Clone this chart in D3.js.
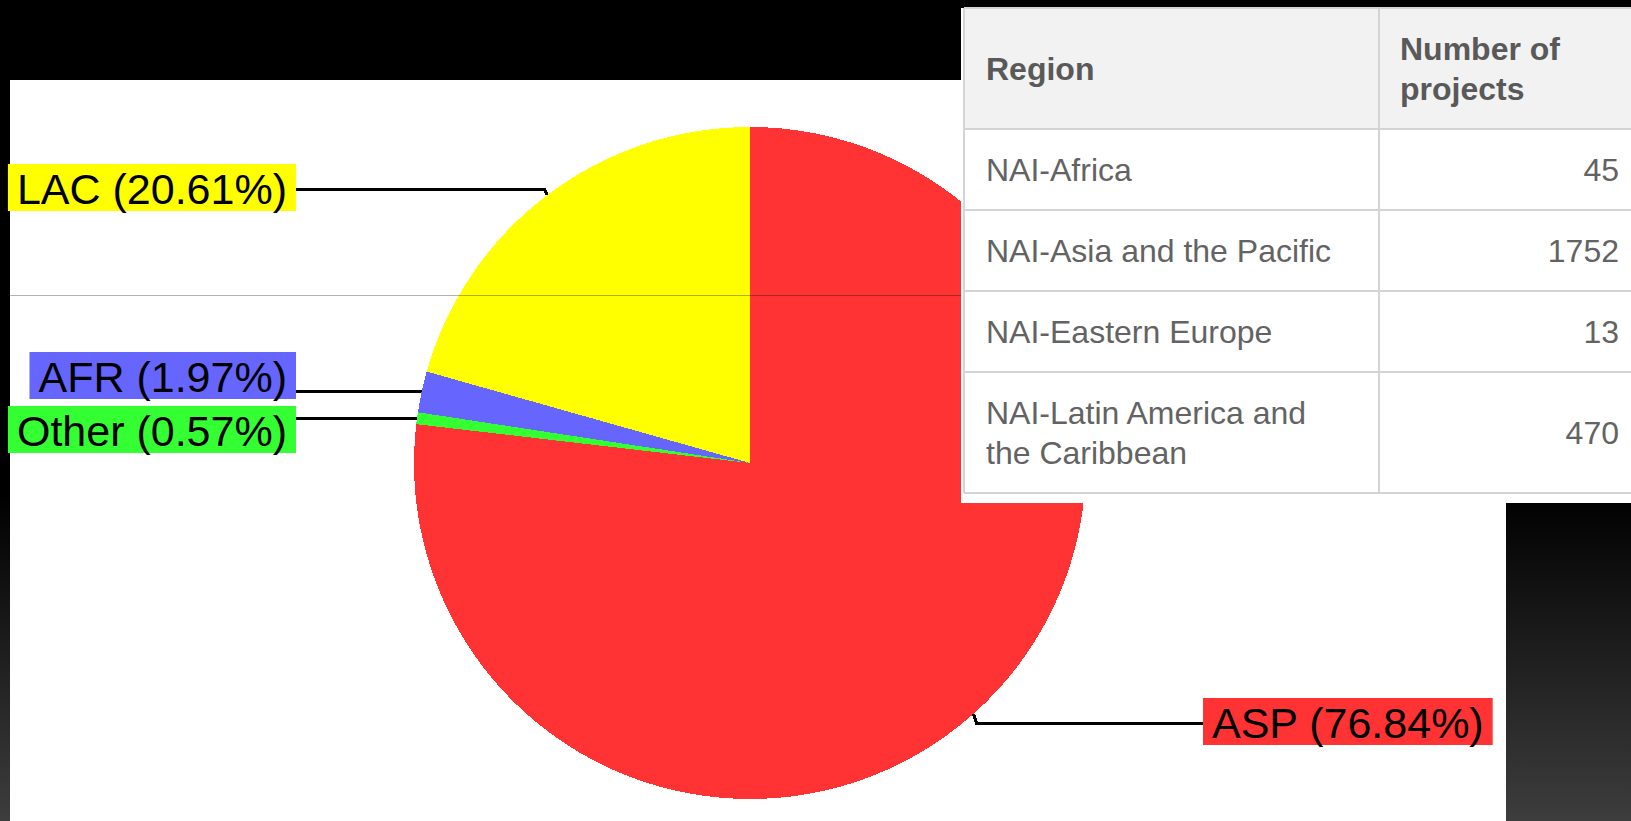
<!DOCTYPE html>
<html>
<head>
<meta charset="utf-8">
<script src="https://cdn.jsdelivr.net/npm/d3@7"></script>
<style>
    body { margin: 0; background: #000; overflow: hidden; }
</style>
</head>
<body>
<svg id="chart"></svg>
<script>
const W = 1631, H = 821;

// table data
const tableHeader = ['Region', 'Number of projects'];
const regions = ['NAI-Africa', 'NAI-Asia and the Pacific', 'NAI-Eastern Europe', 'NAI-Latin America and the Caribbean'];
const projects = [45, 1752, 13, 470];
const codes = ['AFR', 'ASP', 'Other', 'LAC'];

// pie slices, clockwise from 12 o'clock
const pieOrder = ['ASP', 'Other', 'AFR', 'LAC'];
const pieColors = ['#ff3333', '#33ff33', '#6666ff', '#ffff00'];

const svg = d3.select("#chart")
    .attr("width", W)
    .attr("height", H);

// background: black fading to dark grey at the bottom
const grad = svg.append("defs").append("linearGradient")
    .attr("id", "bg")
    .attr("gradientUnits", "userSpaceOnUse")
    .attr("x1", 0).attr("y1", 0).attr("x2", 0).attr("y2", H);
grad.append("stop").attr("offset", 0.6).attr("stop-color", "#000");
grad.append("stop").attr("offset", 1).attr("stop-color", "#3d3d3d");

svg.append("rect").attr("width", W).attr("height", H).attr("fill", "url(#bg)");
svg.append("rect")
    .attr("x", 10).attr("y", 80)
    .attr("width", W - 10).attr("height", H - 80)
    .attr("fill", "#fff");

// ---- pie ----
const cx = 750, cy = 463, r = 336;
const values = pieOrder.map(c => projects[codes.indexOf(c)]);
const total = d3.sum(values);
const color = d3.scaleOrdinal().domain(pieOrder).range(pieColors);

const pie = d3.pie().sort(null).value(d => d.value);
const arcs = pie(pieOrder.map((c, i) => ({ code: c, value: values[i] })));
const arc = d3.arc().innerRadius(0).outerRadius(r);
const edge = d3.arc().innerRadius(r).outerRadius(r);

const g = svg.append("g").attr("transform", `translate(${cx},${cy})`);
g.selectAll("path")
    .data(arcs)
    .join("path")
    .attr("d", arc)
    .attr("fill", d => color(d.data.code))
    .attr("shape-rendering", "crispEdges");

// labels (box top and leader line height)
const labelPos = {
    LAC: { top: 164, line: 189, side: "left" },
    AFR: { top: 352, line: 391, side: "left" },
    Other: { top: 406, line: 418, side: "left" },
    ASP: { top: 698, line: 723, side: "right" }
};
const fmt = d3.format(".2f");
const leftEdge = 296, rightEdge = 1203, pad = 9, boxH = 47;

arcs.forEach(d => {
    const code = d.data.code;
    const p = labelPos[code];
    const [ex, ey] = edge.centroid(d);
    const px = cx + ex, py = cy + ey;

    const lbl = svg.append("g");
    const box = lbl.append("rect").attr("fill", color(code));
    const txt = lbl.append("text")
        .attr("y", p.top + 40)
        .style("font-family", "'Liberation Sans', Arial, sans-serif")
        .style("font-size", "43px")
        .attr("fill", "#000")
        .text(`${code} (${fmt(d.value / total * 100)}%)`);
    const tw = txt.node().getComputedTextLength();
    const bx = p.side === "left" ? leftEdge - tw - 2 * pad : rightEdge;
    box.attr("x", bx).attr("y", p.top).attr("width", tw + 2 * pad).attr("height", boxH);
    txt.attr("x", bx + pad);

    const dir = p.side === "left" ? -1 : 1;
    svg.append("path")
        .attr("d", `M${p.side === "left" ? leftEdge : rightEdge},${p.line}H${px + dir * 3}L${px},${py}`)
        .attr("fill", "none")
        .attr("stroke", "#000")
        .attr("stroke-width", 3)
        .attr("shape-rendering", "crispEdges");
});

// thin grey line across the picture
svg.append("line")
    .attr("x1", 0).attr("x2", 962)
    .attr("y1", 295.5).attr("y2", 295.5)
    .attr("stroke", "#000")
    .attr("stroke-opacity", 0.3);

// dark corner bottom right
svg.append("rect")
    .attr("x", 1506).attr("y", 503)
    .attr("width", W - 1506).attr("height", H - 503)
    .attr("fill", "url(#bg)");

// ---- table ----
const tx = 964, colX = 1379, tRight = 1660, tTop = 8;
const lineH = 40;
svg.append("rect")
    .attr("x", 961).attr("y", tTop)
    .attr("width", W - 961).attr("height", 503 - tTop)
    .attr("fill", "#fff");

const tbl = svg.append("g")
    .style("font-family", "'Liberation Sans', Arial, sans-serif")
    .style("font-size", "32px");

function wrap(str, maxW, bold) {
    const t = tbl.append("text").style("font-weight", bold ? "bold" : "normal");
    const words = str.split(" ");
    const lines = [];
    let cur = [];
    words.forEach(w => {
        cur.push(w);
        t.text(cur.join(" "));
        if (t.node().getComputedTextLength() > maxW && cur.length > 1) {
            cur.pop();
            lines.push(cur.join(" "));
            cur = [w];
        }
    });
    lines.push(cur.join(" "));
    t.remove();
    return lines;
}

const rows = [{ cells: tableHeader, header: true }]
    .concat(regions.map((reg, i) => ({ cells: [reg, String(projects[i])], header: false })));

let y0 = tTop;
const borders = [y0];
rows.forEach(row => {
    const c1 = wrap(row.cells[0], 355, row.header);
    const c2 = wrap(row.cells[1], 215, row.header);
    const n = Math.max(c1.length, c2.length);
    const h = 41 + lineH * n;
    if (row.header) {
        tbl.append("rect")
            .attr("x", tx).attr("y", y0)
            .attr("width", tRight - tx).attr("height", h)
            .attr("fill", "#f2f2f2");
    }
    const mid = y0 + h / 2 + 11;
    [[c1, tx + 22, "start"], [c2, row.header ? colX + 21 : W - 12, row.header ? "start" : "end"]]
        .forEach(([lines, x, anchor]) => {
            lines.forEach((ln, k) => {
                tbl.append("text")
                    .attr("x", x)
                    .attr("y", mid + (k - (lines.length - 1) / 2) * lineH)
                    .attr("text-anchor", anchor)
                    .style("font-weight", row.header ? "bold" : "normal")
                    .attr("fill", row.header ? "#595959" : "#636363")
                    .text(ln);
            });
        });
    y0 += h;
    borders.push(y0);
});

borders.forEach(by => {
    tbl.append("line")
        .attr("x1", tx).attr("x2", tRight)
        .attr("y1", by).attr("y2", by)
        .attr("stroke", "#d4d4d4").attr("stroke-width", 2);
});
[tx, colX].forEach(bx => {
    tbl.append("line")
        .attr("x1", bx).attr("x2", bx)
        .attr("y1", tTop).attr("y2", y0)
        .attr("stroke", "#d4d4d4").attr("stroke-width", 2);
});
</script>
</body>
</html>
